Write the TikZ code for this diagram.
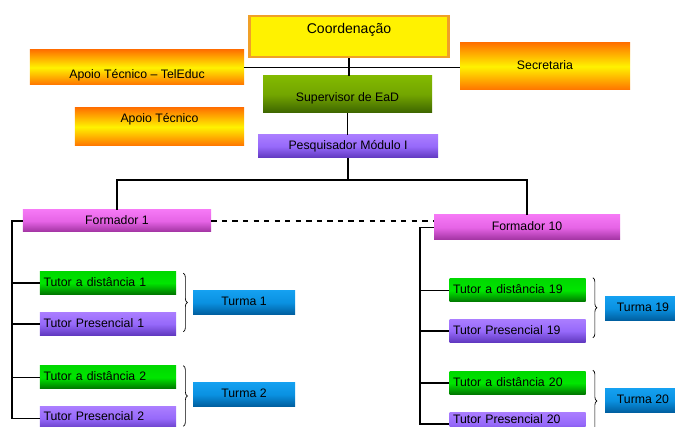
\documentclass[tikz,border=0pt]{standalone}
\usepackage{fontspec}
\setmainfont{Liberation Sans}
\usetikzlibrary{decorations.pathreplacing}

\begin{document}
\begin{tikzpicture}[x=0.2mm,y=-0.2mm,
	box/.style={inner sep=0pt,text height=5pt,text depth=1.5pt,font=\fontsize{7}{8}\selectfont},
	laranja/.style={box,top color=orange!90!red,bottom color=orange!90!red,middle color=yellow!90!orange},
	verde/.style={box,top color=green!85!black,bottom color=green!45!black,middle color=green!90!black},
	oliva/.style={box,top color={rgb,255:red,130;green,185;blue,0},bottom color={rgb,255:red,60;green,100;blue,0},middle color={rgb,255:red,115;green,165;blue,0}},
	roxo/.style={box,top color={rgb,255:red,170;green,125;blue,255},bottom color={rgb,255:red,95;green,55;blue,190},middle color={rgb,255:red,150;green,105;blue,250}},
	rosa/.style={box,top color={rgb,255:red,245;green,120;blue,245},bottom color={rgb,255:red,160;green,50;blue,160},middle color={rgb,255:red,230;green,100;blue,230}},
	azul/.style={box,top color={rgb,255:red,20;green,160;blue,240},bottom color={rgb,255:red,0;green,95;blue,160},middle color={rgb,255:red,10;green,145;blue,225},minimum width=20.4mm,minimum height=4.7mm},
	tutor/.style={minimum height=4.6mm,text width=25.8mm,align=left,inner xsep=0.7mm},
	chave/.style={decorate,decoration={brace,amplitude=0.8mm},line width=0.4pt}]
	\useasboundingbox (0,0) rectangle (675,427);
	
	\node[box,fill=yellow,draw={rgb,255:red,240;green,160;blue,40},line width=1.6pt,minimum width=39.8mm,minimum height=8.2mm,text depth=8.3pt,font=\fontsize{8}{9}\selectfont] (coord) at (349,36.5) {Coordenação};
	\node[laranja,minimum width=42.8mm,minimum height=7mm,text height=13.5pt] (apoiotel) at (137,67.5) {Apoio Técnico -- TelEduc};
	\node[laranja,minimum width=34mm,minimum height=9.4mm] (secr) at (545,66.5) {Secretaria};
	\node[oliva,minimum width=33.8mm,minimum height=7.4mm,text height=9.5pt] (sup) at (347.5,94.5) {Supervisor de EaD};
	\node[laranja,minimum width=33.8mm,minimum height=7.6mm,text depth=10.5pt] (apoio) at (159.5,127) {Apoio Técnico};
	\node[roxo,minimum width=36mm,minimum height=4.6mm] (pesq) at (348,146.5) {Pesquisador Módulo I};
	
	\node[rosa,minimum width=37.6mm,minimum height=4.4mm] (form1) at (117,221) {Formador 1};
	\node[rosa,minimum width=37.2mm,minimum height=5mm] (form10) at (527,227.5) {Formador 10};
	
	\node[verde,tutor] (td1) at (108,283) {Tutor a distância 1};
	\node[roxo,tutor] (tp1) at (108,324) {Tutor Presencial 1};
	\node[azul] (turma1) at (244,302.5) {Turma 1};
	\node[verde,tutor] (td2) at (108,377.5) {Tutor a distância 2};
	\node[roxo,tutor,text depth=3.2pt] (tp2) at (108,418.5) {Tutor Presencial 2};
	\node[azul] (turma2) at (244,394.5) {Turma 2};
	
	\node[verde,tutor] (td19) at (517.5,290.5) {Tutor a distância 19};
	\node[roxo,tutor] (tp19) at (517.5,331) {Tutor Presencial 19};
	\node[azul,minimum width=15.2mm] (turma19) at (643,308.5) {Turma 19};
	\node[verde,tutor] (td20) at (517.5,383) {Tutor a distância 20};
	\node[roxo,tutor,text depth=5.5pt] (tp20) at (517.5,424) {Tutor Presencial 20};
	\node[azul,minimum width=15.2mm] (turma20) at (643,400.5) {Turma 20};
	
	\coordinate (split) at (348,180);
	\coordinate (lbus) at (12,221);
	\coordinate (rbus) at (420,227.5);
	
	\draw[line width=0.6pt] (coord.south) -- (coord.south |- sup.north);
	\draw[line width=0.6pt] (apoiotel.east) -- (apoiotel.east -| secr.west);
	\draw[line width=0.6pt] (sup.south) -- (sup.south |- pesq.north);
	\draw[line width=0.6pt] (pesq.south) -- (split);
	\draw[line width=0.6pt] (form1.north) |- (split) -| (form10.north);
	\draw[line width=0.6pt,dashed] (form1.east) -- (form1.east -| form10.west);
	
	\draw[line width=0.6pt] (form1.west) -- (lbus) |- (tp2.west);
	\foreach \t in {td1,tp1,td2}
		\draw[line width=0.6pt] (lbus |- \t.west) -- (\t.west);
	\draw[line width=0.6pt] (form10.west) -- (rbus) |- (tp20.west);
	\foreach \t in {td19,tp19,td20}
		\draw[line width=0.6pt] (rbus |- \t.west) -- (\t.west);
	
	\draw[chave] ([shift={(7,2)}]td1.north east) -- ([shift={(7,-4)}]tp1.south east);
	\draw[chave] ([shift={(7,0)}]td2.north east) -- ([shift={(7,-4)}]tp2.south east);
	\draw[chave] ([shift={(7,-1)}]td19.north east) -- ([shift={(7,-5)}]tp19.south east);
	\draw[chave] ([shift={(7,-1)}]td20.north east) -- ([shift={(7,-4)}]tp20.south east);
\end{tikzpicture}
\end{document}
